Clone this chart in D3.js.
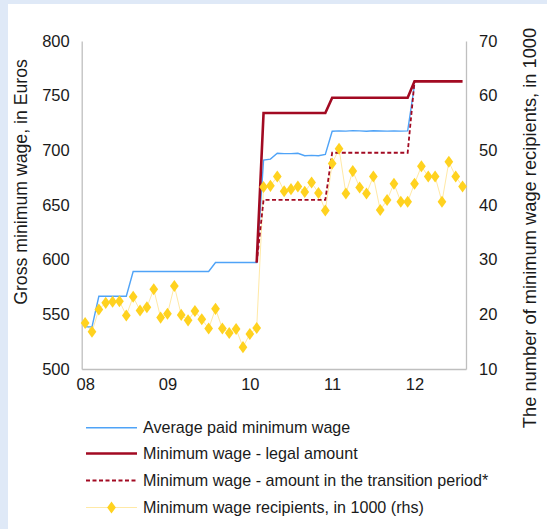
<!DOCTYPE html>
<html><head><meta charset="utf-8">
<script src="https://cdn.jsdelivr.net/npm/d3@7"></script>
<style>
html,body{margin:0;padding:0;background:#dfe9f7;}
svg{display:block;font-family:"Liberation Sans",Arial,sans-serif;}
</style></head>
<body>
<svg id="chart" width="547" height="529"></svg>
<script>
// ---- data (monthly, Jan 2008 .. Aug 2012) ----
const months = d3.range(56); // month index
const xTickIndex = [0, 12, 24, 36, 48];
const xTickLabels = ["08", "09", "10", "11", "12"];
const leftTicks = [500, 550, 600, 650, 700, 750, 800];
const rightTicks = [10, 20, 30, 40, 50, 60, 70];

const avgPaid = [538.5, 538.5, 566.5, 566.5, 566.5, 566.5, 566.5, 589.2, 589.2, 589.2, 589.2, 589.2,
  589.2, 589.2, 589.2, 589.2, 589.2, 589.2, 589.2, 597.4, 597.4, 597.4, 597.4, 597.4,
  597.4, 597.4, 691.0, 692.0, 697.3, 697.0, 697.0, 697.3, 695.1, 695.4, 695.1, 696.3,
  717.5, 717.8, 717.6, 718.0, 717.8, 717.5, 717.9, 717.7, 717.6, 717.8, 717.6, 717.8,
  760.0, null, null, null, null, null, null, null];

const legal = [null, null, null, null, null, null, null, null, null, null, null, null,
  null, null, null, null, null, null, null, null, null, null, null, null,
  null, 597.4, 734.2, 734.2, 734.2, 734.2, 734.2, 734.2, 734.2, 734.2, 734.2, 734.2,
  748.1, 748.1, 748.1, 748.1, 748.1, 748.1, 748.1, 748.1, 748.1, 748.1, 748.1, 748.1,
  763.1, 763.1, 763.1, 763.1, 763.1, 763.1, 763.1, 763.1];

const transition = [null, null, null, null, null, null, null, null, null, null, null, null,
  null, null, null, null, null, null, null, null, null, null, null, null,
  null, 597.4, 654.7, 654.7, 654.7, 654.7, 654.7, 654.7, 654.7, 654.7, 654.7, 654.7,
  697.8, 697.8, 697.8, 697.8, 697.8, 697.8, 697.8, 697.8, 697.8, 697.8, 697.8, 697.8,
  763.1, null, null, null, null, null, null, null];

const recipients = [18.4, 16.8, 20.9, 22.1, 22.3, 22.4, 19.8, 23.2, 20.7, 21.3, 24.6, 19.4,
  20.1, 25.2, 19.9, 18.9, 20.6, 19.1, 17.4, 21.0, 17.4, 16.6, 17.3, 14.0,
  16.4, 17.5, 43.3, 43.5, 45.2, 42.5, 42.9, 43.4, 42.4, 44.1, 42.2, 39.0,
  47.6, 50.3, 42.1, 46.2, 43.2, 42.1, 45.2, 39.1, 40.9, 43.9, 40.6, 40.6,
  43.9, 47.1, 45.2, 45.2, 40.6, 47.9, 45.2, 43.4];

const legendLabels = ["Average paid minimum wage", "Minimum wage - legal amount",
  "Minimum wage - amount in the transition period*", "Minimum wage recipients, in 1000 (rhs)"];

// ---- layout ----
const svg = d3.select("#chart");
const W = 547, H = 529;
const plot = {left: 81.7, right: 466, top: 41, bottom: 369};
const cBlue = "#4fa3f7", cRed = "#a20a22", cGold = "#ffd21f", cPale = "#ffe9a6", axisCol = "#bfbfbf";

svg.append("rect").attr("x", 8).attr("y", 4).attr("width", W - 8).attr("height", H - 4).attr("fill", "#fff");

const x = d3.scalePoint().domain(months).range([plot.left, plot.right]).padding(0.5);
const yL = d3.scaleLinear().domain([500, 800]).range([plot.bottom, plot.top]);
const yR = d3.scaleLinear().domain([10, 70]).range([plot.bottom, plot.top]);

// axes
const axL = svg.append("g").attr("transform", `translate(${plot.left},0)`)
  .call(d3.axisLeft(yL).tickValues(leftTicks).tickSize(0).tickPadding(12));
const axR = svg.append("g").attr("transform", `translate(${plot.right},0)`)
  .call(d3.axisRight(yR).tickValues(rightTicks).tickSize(0).tickPadding(13));
const axB = svg.append("g").attr("transform", `translate(0,${plot.bottom})`)
  .call(d3.axisBottom(x).tickValues(xTickIndex).tickFormat(d => xTickLabels[xTickIndex.indexOf(d)]).tickSize(0).tickPadding(9));
[axL, axR, axB].forEach(a => {
  a.select(".domain").attr("stroke", axisCol).attr("stroke-width", 1.3);
  a.selectAll("text").attr("font-size", 16.5).attr("fill", "#1a1a1a").attr("font-family", "Liberation Sans, Arial, sans-serif");
});
axB.selectAll("text").attr("dy", "0.75em");

// lines
const lineL = d3.line().defined(d => d.v != null).x(d => x(d.i)).y(d => yL(d.v));
const lineR = d3.line().defined(d => d.v != null).x(d => x(d.i)).y(d => yR(d.v));
const pts = arr => arr.map((v, i) => ({i: months[i], v}));

svg.append("path").attr("d", lineR(pts(recipients))).attr("fill", "none")
  .attr("stroke", cPale).attr("stroke-width", 1);
svg.append("path").attr("d", lineL(pts(avgPaid))).attr("fill", "none")
  .attr("stroke", cBlue).attr("stroke-width", 1.4);
svg.append("path").attr("d", lineL(pts(legal))).attr("fill", "none")
  .attr("stroke", cRed).attr("stroke-width", 2.6);
svg.append("path").attr("d", lineL(pts(transition))).attr("fill", "none")
  .attr("stroke", cRed).attr("stroke-width", 1.8).attr("stroke-dasharray", "4,2.5");

const diamond = d3.symbol().type(d3.symbolDiamond).size(42);
svg.append("g").selectAll("path").data(pts(recipients)).join("path")
  .attr("d", diamond).attr("transform", d => `translate(${x(d.i)},${yR(d.v)}) scale(1.25,1)`)
  .attr("fill", cGold);

// axis titles
svg.append("text").attr("transform", "translate(27,182) rotate(-90)").attr("text-anchor", "middle")
  .attr("font-size", 17.7).attr("fill", "#1a1a1a").text("Gross minimum wage, in Euros");
svg.append("text").attr("transform", "translate(536,228) rotate(-90)").attr("text-anchor", "middle")
  .attr("font-size", 18.3).attr("fill", "#1a1a1a").text("The number of minimum wage recipients, in 1000");

// legend
const lg = svg.append("g");
const rowY = [427.7, 453.5, 480.5, 507.5];
legendLabels.forEach((t, k) => {
  const y = rowY[k];
  const l = lg.append("line").attr("x1", 86).attr("x2", 137).attr("y1", y).attr("y2", y);
  if (k === 0) l.attr("stroke", cBlue).attr("stroke-width", 1.4);
  if (k === 1) l.attr("stroke", cRed).attr("stroke-width", 2.6);
  if (k === 2) l.attr("stroke", cRed).attr("stroke-width", 1.8).attr("stroke-dasharray", "4,2.5");
  if (k === 3) {
    l.attr("stroke", cPale).attr("stroke-width", 1);
    lg.append("path").attr("d", diamond).attr("transform", `translate(111.5,${y}) scale(1.25,1)`).attr("fill", cGold);
  }
  lg.append("text").attr("x", 143).attr("y", y).attr("dy", "0.35em").attr("font-size", 16.1)
    .attr("fill", "#1a1a1a").text(t);
});
</script>
</body></html>
